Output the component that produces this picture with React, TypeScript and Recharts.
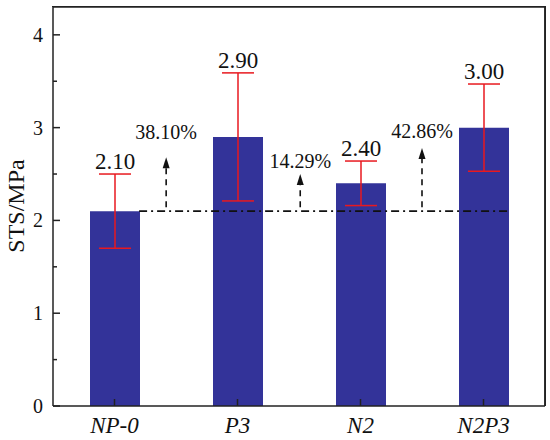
import React from "react";
import {
  Bar,
  BarChart,
  CartesianGrid,
  ErrorBar,
  LabelList,
  ReferenceDot,
  ReferenceLine,
  XAxis,
  YAxis,
} from "recharts";

const categories = ["NP-0", "P3", "N2", "N2P3"];
const strength = [2.1, 2.9, 2.4, 3.0];
const deviation = [0.4, 0.69, 0.24, 0.47];
const yTicks = [0, 0.5, 1, 1.5, 2, 2.5, 3, 3.5, 4];
const xDomain = [0.5, 4.5];
const yDomain = [0, 4.3];

// reference level (NP-0) and the increase of each mix over it
const baseline = 2.1;
const increases = ["38.10%", "14.29%", "42.86%"];
const arrowX = [1.42, 2.51, 3.5];
const arrowTop = [2.68, 2.5, 2.78];
const increaseLabelY = [2.88, 2.56, 2.89];

const data = categories.map((name, i) => ({
  pos: i + 1,
  name,
  sts: strength[i],
  sd: deviation[i],
}));

const FONT = '"Liberation Serif", "Times New Roman", Tinos, "DejaVu Serif", serif';
const AXIS = "#222";
const serif = (size: number, extra: React.CSSProperties = {}) => ({
  fontFamily: FONT,
  fontSize: size,
  ...extra,
});

const YTick = ({ x, y, payload }: any) => {
  const major = payload.value % 1 === 0;
  return (
    <g>
      <line x1={x} x2={x + (major ? 7 : 4)} y1={y} y2={y} stroke={AXIS} strokeWidth={1.5} />
      {major && (
        <text x={x - 10} y={y + 7} textAnchor="end" fill="#111" style={serif(20)}>
          {payload.value}
        </text>
      )}
    </g>
  );
};

const XTick = ({ x, y, payload }: any) => (
  <g>
    <line x1={x} x2={x} y1={y} y2={y - 7} stroke={AXIS} strokeWidth={1.5} />
    <text
      x={x}
      y={y + 27}
      textAnchor="middle"
      fill="#111"
      style={serif(23, { fontStyle: "italic" })}
    >
      {categories[payload.value - 1]}
    </text>
  </g>
);

const BarValue = (props: any) => {
  const { x, y, width, height, value } = props;
  const i = props.index ?? strength.indexOf(value);
  const errTop = y - (deviation[i] * height) / value;
  return (
    <text x={x + width / 2} y={errTop - 5} textAnchor="middle" fill="#111" style={serif(23)}>
      {Number(value).toFixed(2)}
    </text>
  );
};

const Arrow = (p: any) => {
  const x = p.x1;
  const bottom = Math.max(p.y1, p.y2);
  const tip = Math.min(p.y1, p.y2);
  return (
    <g>
      <line
        x1={x}
        x2={x}
        y1={bottom - 4}
        y2={tip + 10}
        stroke="#111"
        strokeWidth={1.6}
        strokeDasharray="6 5"
      />
      <polygon points={`${x},${tip} ${x - 3.5},${tip + 11} ${x + 3.5},${tip + 11}`} fill="#111" />
    </g>
  );
};

const App = () => {
  return (
    <div style={{ position: "absolute", left: 0, top: 0, width: 550, height: 440, background: "#fff" }}>
      <BarChart
        width={550}
        height={440}
        data={data}
        margin={{ top: 6, right: 4, bottom: 0, left: 0 }}
      >
        <CartesianGrid
          horizontalValues={[yDomain[1]]}
          verticalValues={[xDomain[1]]}
          stroke={AXIS}
          strokeWidth={1.5}
        />
        <XAxis
          dataKey="pos"
          type="number"
          domain={xDomain}
          ticks={[1, 2, 3, 4]}
          height={34}
          tickSize={0}
          tickMargin={0}
          tickLine={false}
          tick={<XTick />}
          axisLine={{ stroke: AXIS, strokeWidth: 1.5 }}
        />
        <XAxis
          xAxisId="top"
          orientation="top"
          dataKey="pos"
          type="number"
          domain={xDomain}
          height={1}
          tick={false}
          tickLine={false}
          axisLine={{ stroke: AXIS, strokeWidth: 1.5 }}
        />
        <YAxis
          type="number"
          domain={yDomain}
          ticks={yTicks}
          width={53}
          tickSize={0}
          tickMargin={0}
          tickLine={false}
          tick={<YTick />}
          axisLine={{ stroke: AXIS, strokeWidth: 1.5 }}
          label={{
            content: () => (
              <text
                x={24}
                y={206}
                transform="rotate(-90 24 206)"
                textAnchor="middle"
                fill="#111"
                style={serif(24)}
              >
                STS/MPa
              </text>
            ),
          }}
        />
        <YAxis
          yAxisId="right"
          orientation="right"
          type="number"
          domain={yDomain}
          width={1}
          tick={false}
          tickLine={false}
          axisLine={{ stroke: AXIS, strokeWidth: 1.5 }}
        />
        <Bar dataKey="sts" fill="#333399" barSize={50} isAnimationActive={false}>
          <ErrorBar dataKey="sd" width={16} stroke="#e8191f" strokeWidth={1.5} />
          <LabelList dataKey="sts" content={<BarValue />} />
        </Bar>
        <ReferenceLine
          segment={[
            { x: 1.2, y: baseline },
            { x: 4.2, y: baseline },
          ]}
          stroke="#111"
          strokeWidth={1.6}
          strokeDasharray="8 4 2 4"
        />
        {arrowX.map((ax, i) => (
          <ReferenceLine
            key={`arrow-${i}`}
            segment={[
              { x: ax, y: baseline },
              { x: ax, y: arrowTop[i] },
            ]}
            shape={<Arrow />}
          />
        ))}
        {arrowX.map((ax, i) => (
          <ReferenceDot
            key={`inc-${i}`}
            x={ax}
            y={increaseLabelY[i]}
            r={0}
            shape={(p: any) => (
              <text x={p.cx} y={p.cy} textAnchor="middle" fill="#111" style={serif(20)}>
                {increases[i]}
              </text>
            )}
          />
        ))}
      </BarChart>
      {/* top and right edges of the plot frame */}
      <div
        style={{
          position: "absolute",
          left: 52,
          top: 6,
          width: 494,
          height: 400,
          boxSizing: "border-box",
          borderTop: `1.5px solid ${AXIS}`,
          borderRight: `1.5px solid ${AXIS}`,
          pointerEvents: "none",
        }}
      />
    </div>
  );
};

export default App;
